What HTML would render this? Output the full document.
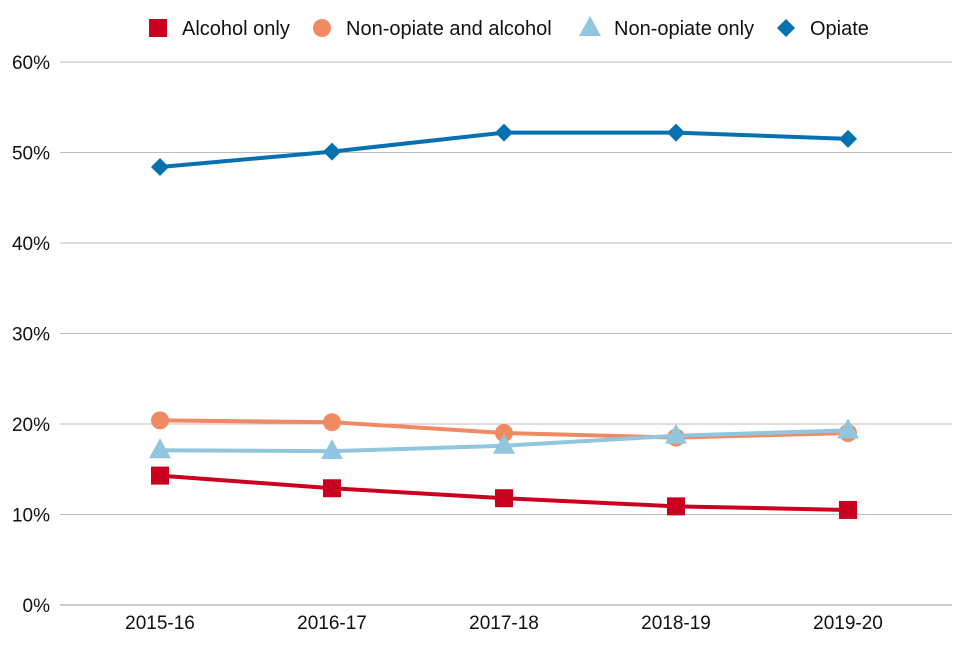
<!DOCTYPE html>
<html><head><meta charset="utf-8"><style>
body{margin:0;background:#fff;font-family:"Liberation Sans",sans-serif;}
svg text{font-family:"Liberation Sans",sans-serif;fill:#111;}
</style></head><body>
<svg id="chart" width="960" height="640" xmlns="http://www.w3.org/2000/svg">
<g id="grid"></g>
<g id="axes"></g>
<g id="series"></g>
<g id="legend"></g>
</svg>
<script>
const categories = ["2015-16","2016-17","2017-18","2018-19","2019-20"];
const yTicks = [0,10,20,30,40,50,60];
const seriesNames = ["Alcohol only","Non-opiate and alcohol","Non-opiate only","Opiate"];
const alcoholOnly = [14.3,12.9,11.8,10.9,10.5];
const nonOpiateAlcohol = [20.4,20.2,19.0,18.5,19.0];
const nonOpiateOnly = [17.1,17.0,17.6,18.7,19.3];
const opiate = [48.4,50.1,52.2,52.2,51.5];

const NS="http://www.w3.org/2000/svg";
const L=60,R=952,T=62,B=605;
const x=i=>160+i*172;
const y=v=>B-(v/60)*(B-T);
function mk(tag,attrs,parent){const e=document.createElementNS(NS,tag);for(const k in attrs)e.setAttribute(k,attrs[k]);parent.appendChild(e);return e;}
const grid=document.getElementById('grid'),axes=document.getElementById('axes'),ser=document.getElementById('series'),leg=document.getElementById('legend');
yTicks.forEach(t=>{
  const l=mk('line',{x1:L,x2:R,y1:y(t),y2:y(t),stroke:t===0?'#999':'#bdbdbd','stroke-width':1},grid);
  
  
  const tx=mk('text',{x:50,y:y(t)+7,'text-anchor':'end','font-size':19},axes);
  tx.textContent=t+'%';
  
  
});
categories.forEach((c,i)=>{
  const tx=mk('text',{x:x(i),y:629,'text-anchor':'middle','font-size':19},axes);
  tx.textContent=c;
  
  
});
function marker(shape,cx,cy,color,parent){
  let e;
  if(shape==='square')e=mk('rect',{x:cx-9,y:cy-9,width:18,height:18,fill:color},parent);
  else if(shape==='circle')e=mk('circle',{cx:cx,cy:cy,r:9,fill:color},parent);
  else if(shape==='triangle')e=mk('polygon',{points:`${cx},${cy-12} ${cx+11},${cy+8} ${cx-11},${cy+8}`,fill:color},parent);
  else e=mk('polygon',{points:`${cx},${cy-9} ${cx+9},${cy} ${cx},${cy+9} ${cx-9},${cy}`,fill:color},parent);
  return e;
}
const defs=[
  {data:alcoholOnly,color:'#ca0020',shape:'square',key:'alcohol-only'},
  {data:nonOpiateAlcohol,color:'#ef8a62',shape:'circle',key:'non-opiate-and-alcohol'},
  {data:nonOpiateOnly,color:'#92c5de',shape:'triangle',key:'non-opiate-only'},
  {data:opiate,color:'#0571b0',shape:'diamond',key:'opiate'}
];
defs.forEach(d=>{
  const p=mk('polyline',{points:d.data.map((v,i)=>x(i)+','+y(v)).join(' '),fill:'none',stroke:d.color,'stroke-width':4},ser);
  
  
  d.data.forEach((v,i)=>{
    const m=marker(d.shape,x(i),y(v),d.color,ser);
    
    
  });
});
const legX=[158,322,590,786];
defs.forEach((d,i)=>{
  const m=marker(d.shape,legX[i],28,d.color,leg);
  
  
  const t=mk('text',{x:legX[i]+24,y:35,'font-size':20},leg);
  t.textContent=seriesNames[i];
  
  
});
</script>
</body></html>
